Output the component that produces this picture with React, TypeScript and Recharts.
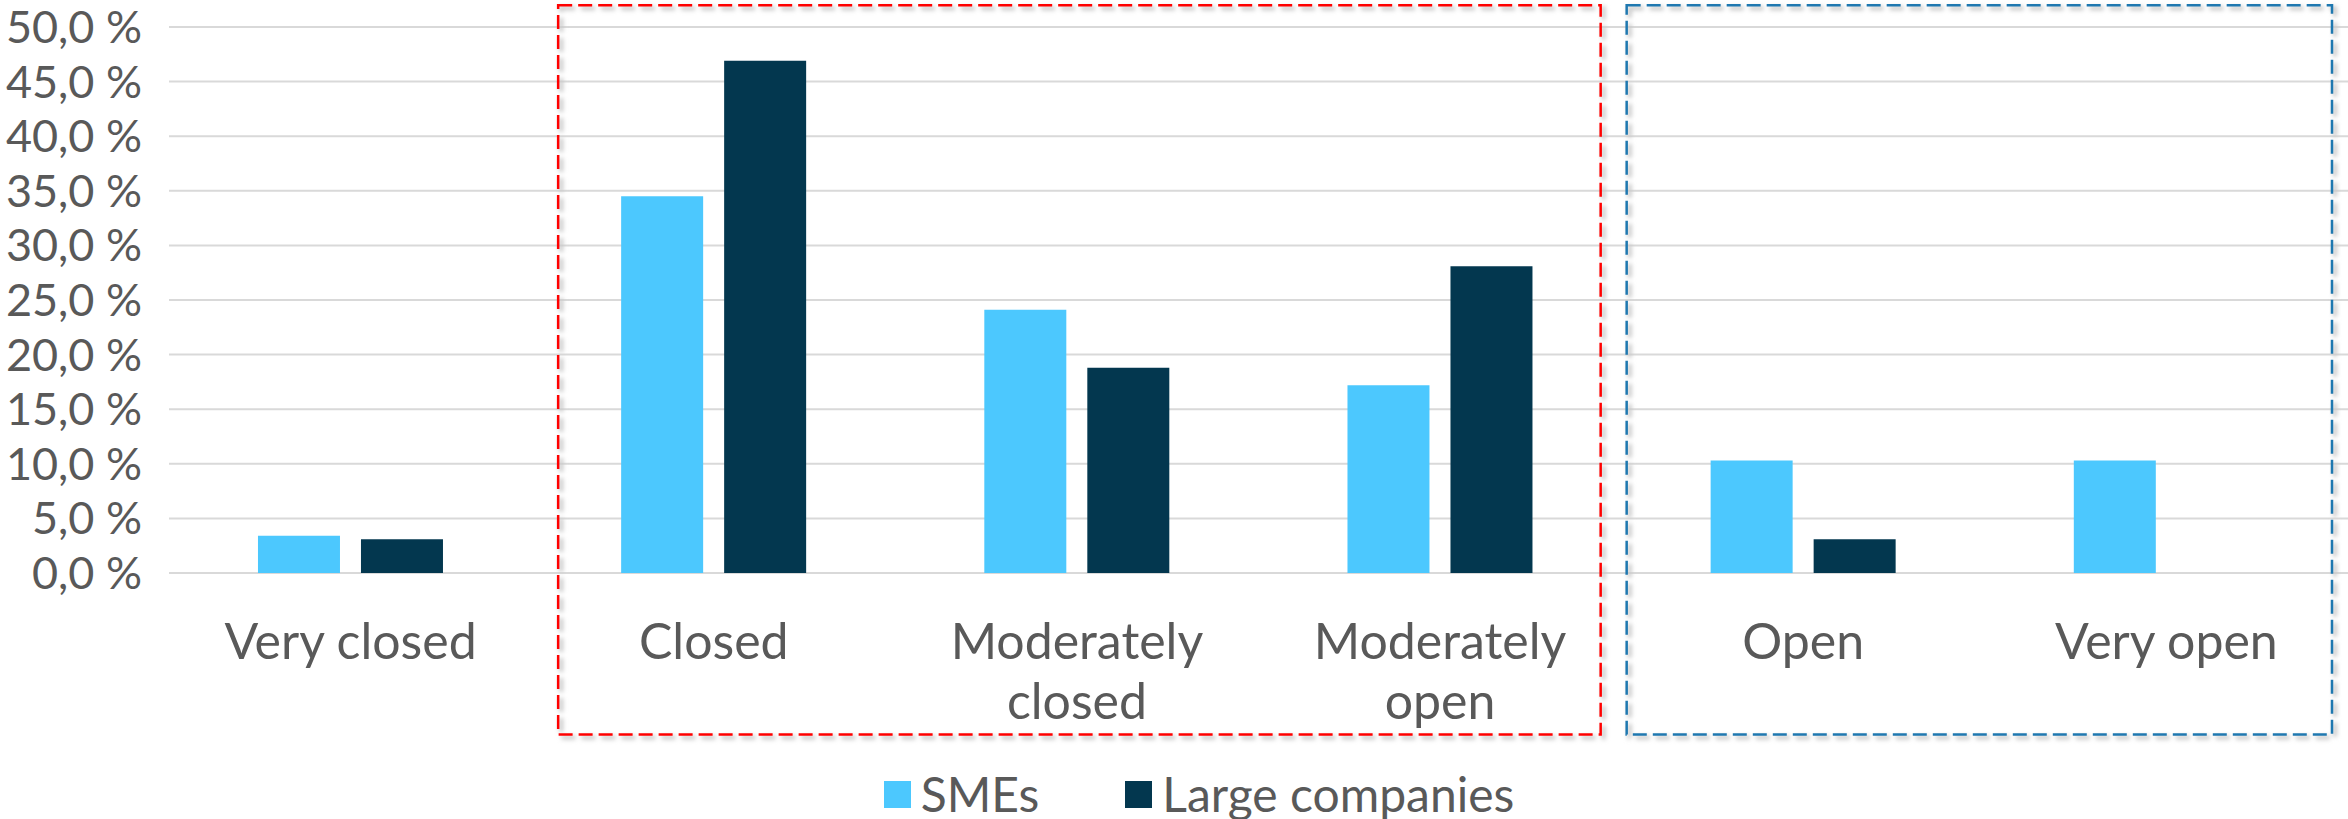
import React from "react";
import {
  Bar,
  BarChart,
  CartesianGrid,
  Legend,
  ReferenceArea,
  XAxis,
  YAxis,
} from "recharts";

const categories = ["Very closed", "Closed", "Moderately closed", "Moderately open", "Open", "Very open"];
const smes = [3.4, 34.5, 24.1, 17.2, 10.3, 10.3];
const large = [3.1, 46.9, 18.8, 28.1, 3.1, 0];
const yTicks = [0, 5, 10, 15, 20, 25, 30, 35, 40, 45, 50];
const seriesNames = ["SMEs", "Large companies"];

const data = categories.map((category, i) => ({ category, smes: smes[i], large: large[i] }));

const FONT = "Lato, 'Open Sans', sans-serif";
const TEXT = "#595959";
const SME_COLOR = "#4cc8fe";
const LARGE_COLOR = "#03374f";
const seriesColors = [SME_COLOR, LARGE_COLOR];

// greedy word wrap, Excel wraps long category names onto two lines
function wrapWords(label: string, maxChars: number) {
  const lines: string[] = [];
  let cur = "";
  for (const w of label.split(" ")) {
    const next = cur ? cur + " " + w : w;
    if (next.length > maxChars && cur) {
      lines.push(cur);
      cur = w;
    } else {
      cur = next;
    }
  }
  if (cur) lines.push(cur);
  return lines;
}

function XTick({ x, y, payload }: any) {
  const lines = wrapWords(String(payload.value), 11);
  return (
    <text x={x} y={y} textAnchor="middle" fill={TEXT} fontSize={50} fontFamily={FONT}>
      {lines.map((l, i) => (
        <tspan key={i} x={x} dy={i === 0 ? 36 : 60}>
          {l}
        </tspan>
      ))}
    </text>
  );
}

// dashed annotation box, with a soft grey shadow like the original
const boxShape = (id: string, color: string, insetL: number, insetR: number) => (props: any) => {
  const x = props.x + insetL;
  const w = props.width - insetL - insetR;
  const { y, height } = props;
  return (
    <g>
      <defs>
        <filter id={id} x="-5%" y="-5%" width="110%" height="110%">
          <feGaussianBlur stdDeviation="2" />
        </filter>
      </defs>
      <rect
        x={x + 3}
        y={y + 3}
        width={w}
        height={height}
        fill="none"
        stroke="#c8c8c8"
        strokeWidth={4}
        strokeDasharray="14 6"
        filter={`url(#${id})`}
      />
      <rect x={x} y={y} width={w} height={height} fill="none" stroke={color} strokeWidth={2.5} strokeDasharray="14 6" />
    </g>
  );
};

function LegendContent() {
  return (
    <div
      style={{
        display: "flex",
        justifyContent: "center",
        alignItems: "center",
        height: 60,
        paddingLeft: 50,
        transform: "translateY(5px)",
        fontFamily: FONT,
        fontSize: 48,
        color: TEXT,
      }}
    >
      {seriesNames.map((name, i) => (
        <div key={name} style={{ display: "flex", alignItems: "center", marginRight: i === 0 ? 86 : 0 }}>
          <span style={{ width: 27, height: 27, background: seriesColors[i], display: "inline-block", marginRight: 10 }} />
          <span style={{ lineHeight: "60px" }}>{name}</span>
        </div>
      ))}
    </div>
  );
}

export default function App() {
  return (
    <div style={{ position: "absolute", left: 0, top: 0, background: "#fff" }}>
      <BarChart
        width={2348}
        height={819}
        data={data}
        margin={{ top: 27, right: 0, left: 0, bottom: 0 }}
        barCategoryGap="24.5%"
        barGap={21}
      >
        <CartesianGrid vertical={false} stroke="#d9d9d9" strokeWidth={2} />
        <XAxis
          dataKey="category"
          interval={0}
          axisLine={false}
          tickLine={false}
          tickSize={0}
          tickMargin={50}
          height={186}
          tick={<XTick />}
        />
        <YAxis
          width={169}
          domain={[0, 50]}
          ticks={yTicks}
          interval={0}
          axisLine={false}
          tickLine={false}
          tickSize={0}
          tickMargin={27}
          tick={{ fill: TEXT, fontSize: 45, fontFamily: FONT }}
          tickFormatter={(v) => `${Number(v).toFixed(1).replace(".", ",")} %`}
        />
        <Legend verticalAlign="bottom" content={<LegendContent />} />
        <Bar dataKey="smes" name={seriesNames[0]} fill={SME_COLOR} isAnimationActive={false} />
        <Bar dataKey="large" name={seriesNames[1]} fill={LARGE_COLOR} isAnimationActive={false} />
        <ReferenceArea
          x1="Closed"
          x2="Moderately open"
          y1={-14.8}
          y2={52}
          ifOverflow="visible"
          shape={boxShape("shadowRed", "#ff0000", 26, 21)}
        />
        <ReferenceArea
          x1="Open"
          x2="Very open"
          y1={-14.8}
          y2={52}
          ifOverflow="visible"
          shape={boxShape("shadowBlue", "#1f78b0", 5, 16)}
        />
      </BarChart>
    </div>
  );
}
